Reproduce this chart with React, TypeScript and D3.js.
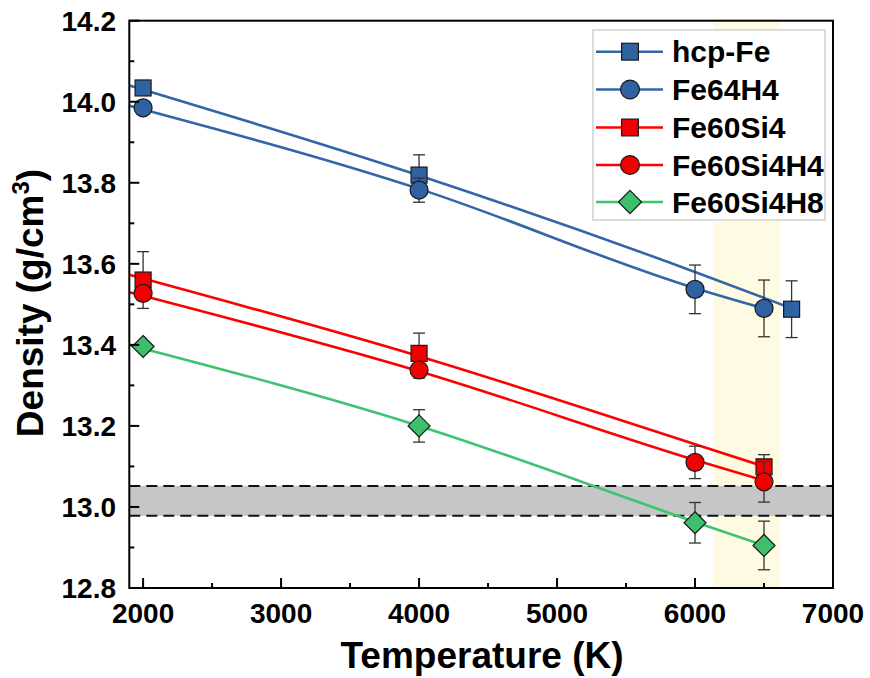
import React from "react";
import * as d3 from "d3";

// ---- data ----
const seriesNames = ["hcp-Fe", "Fe64H4", "Fe60Si4", "Fe60Si4H4", "Fe60Si4H8"];
const seriesShapes = ["square", "circle", "square", "circle", "diamond"];
const seriesLineColors = ["#3366a8", "#3366a8", "#ff0000", "#ff0000", "#3cc46e"];
const seriesFillColors = ["#2f62a0", "#2f62a0", "#f00000", "#f00000", "#3dbf6e"];

const hcpFeT = [2000, 4000, 6700];
const hcpFeD = [14.034, 13.819, 13.488];
const hcpFeErr = [0.01, 0.05, 0.07];

const fe64h4T = [2000, 4000, 6000, 6500];
const fe64h4D = [13.985, 13.782, 13.537, 13.49];
const fe64h4Err = [0.01, 0.03, 0.06, 0.07];

const fe60si4T = [2000, 4000, 6500];
const fe60si4D = [13.56, 13.379, 13.099];
const fe60si4Err = [0.07, 0.05, 0.03];

const fe60si4h4T = [2000, 4000, 6000, 6500];
const fe60si4h4D = [13.527, 13.338, 13.11, 13.062];
const fe60si4h4Err = [0.015, 0.02, 0.04, 0.05];

const fe60si4h8T = [2000, 4000, 6000, 6500];
const fe60si4h8D = [13.396, 13.2, 12.961, 12.905];
const fe60si4h8Err = [0.01, 0.04, 0.05, 0.06];

// fitted curves
const hcpFeFitT = [1900, 4000, 6000, 6700];
const hcpFeFitD = [14.04, 13.818, 13.58, 13.49];
const fe64h4FitT = [1900, 4000, 6000, 6500];
const fe64h4FitD = [13.99, 13.785, 13.54, 13.49];
const fe60si4FitT = [1900, 4000, 6000, 6500];
const fe60si4FitD = [13.573, 13.372, 13.155, 13.1];
const fe60si4h4FitT = [1900, 4000, 6000, 6500];
const fe60si4h4FitD = [13.53, 13.335, 13.116, 13.065];
const fe60si4h8FitT = [1900, 4000, 6000, 6500];
const fe60si4h8FitD = [13.4, 13.2, 12.963, 12.905];

const pointsT = [hcpFeT, fe64h4T, fe60si4T, fe60si4h4T, fe60si4h8T];
const pointsD = [hcpFeD, fe64h4D, fe60si4D, fe60si4h4D, fe60si4h8D];
const pointsErr = [hcpFeErr, fe64h4Err, fe60si4Err, fe60si4h4Err, fe60si4h8Err];
const fitT = [hcpFeFitT, fe64h4FitT, fe60si4FitT, fe60si4h4FitT, fe60si4h8FitT];
const fitD = [hcpFeFitD, fe64h4FitD, fe60si4FitD, fe60si4h4FitD, fe60si4h8FitD];

const xTicks = [2000, 3000, 4000, 5000, 6000, 7000];
const xMinorTicks = [2500, 3500, 4500, 5500, 6500];
const yTicks = [12.8, 13.0, 13.2, 13.4, 13.6, 13.8, 14.0, 14.2];
const yMinorTicks = [12.9, 13.1, 13.3, 13.5, 13.7, 13.9, 14.1];

const yellowBand = [6135, 6618];
const grayBand = [12.978, 13.052];

const FONT = "'Liberation Sans', Arial, Helvetica, sans-serif";

function Marker({ shape, x, y, fill, s = 1 }: any) {
  const stroke = "#1a1a1a";
  if (shape === "square") {
    const h = 8 * s;
    return <rect x={x - h} y={y - h} width={2 * h} height={2 * h} fill={fill} stroke={stroke} strokeWidth={1.2} />;
  }
  if (shape === "circle") {
    return <circle cx={x} cy={y} r={9 * s} fill={fill} stroke={stroke} strokeWidth={1.2} />;
  }
  const r = 11 * s;
  return (
    <polygon
      points={`${x},${y - r} ${x + r},${y} ${x},${y + r} ${x - r},${y}`}
      fill={fill}
      stroke={stroke}
      strokeWidth={1.2}
    />
  );
}

export default function App() {
  const W = 870;
  const H = 678;
  const left = 129.3;
  const right = 833;
  const top = 20.7;
  const bottom = 588;

  const x = d3.scaleLinear().domain([1900, 7000]).range([left, right]);
  const y = d3.scaleLinear().domain([12.8, 14.2]).range([bottom, top]);

  const line = d3
    .line<[number, number]>()
    .x((d) => x(d[0]))
    .y((d) => y(d[1]))
    .curve(d3.curveMonotoneX);

  const legendRowY = [51.7, 89.5, 127.5, 165, 202];

  return (
    <svg width={W} height={H} style={{ position: "absolute", left: 0, top: 0, background: "#fff" }} fontFamily={FONT}>
      {/* yellow band */}
      <rect
        x={x(yellowBand[0])}
        y={top}
        width={x(yellowBand[1]) - x(yellowBand[0])}
        height={bottom - top}
        fill="#fffbe2"
      />
      {/* gray band */}
      <rect x={left} y={y(grayBand[1])} width={right - left} height={y(grayBand[0]) - y(grayBand[1])} fill="#c6c6c6" />
      {grayBand.map((v, i) => (
        <line key={i} x1={left} x2={right} y1={y(v)} y2={y(v)} stroke="#111" strokeWidth={2} strokeDasharray="11,6" />
      ))}

      {/* fit lines */}
      {fitT.map((ts, si) => (
        <path
          key={si}
          d={line(ts.map((t, i) => [t, fitD[si][i]]) as [number, number][]) || ""}
          fill="none"
          stroke={seriesLineColors[si]}
          strokeWidth={2.6}
        />
      ))}

      {/* error bars + markers */}
      {pointsT.map((ts, si) => (
        <g key={si}>
          {ts.map((t, i) => {
            const cx = x(t);
            const v = pointsD[si][i];
            const e = pointsErr[si][i];
            return (
              <g key={i} stroke="#333" strokeWidth={1.3}>
                <line x1={cx} x2={cx} y1={y(v + e)} y2={y(v - e)} />
                <line x1={cx - 6} x2={cx + 6} y1={y(v + e)} y2={y(v + e)} />
                <line x1={cx - 6} x2={cx + 6} y1={y(v - e)} y2={y(v - e)} />
              </g>
            );
          })}
          {ts.map((t, i) => (
            <Marker key={"m" + i} shape={seriesShapes[si]} x={x(t)} y={y(pointsD[si][i])} fill={seriesFillColors[si]} />
          ))}
        </g>
      ))}

      {/* axes box */}
      <rect x={left} y={top} width={right - left} height={bottom - top} fill="none" stroke="#000" strokeWidth={2} />
      {xTicks.map((t) => (
        <g key={t}>
          <line x1={x(t)} x2={x(t)} y1={bottom} y2={bottom - 10} stroke="#000" strokeWidth={2} />
          <text x={x(t)} y={623} textAnchor="middle" fontSize={28} fontWeight="bold">
            {t}
          </text>
        </g>
      ))}
      {xMinorTicks.map((t) => (
        <line key={t} x1={x(t)} x2={x(t)} y1={bottom} y2={bottom - 5} stroke="#000" strokeWidth={2} />
      ))}
      {yTicks.map((v) => (
        <g key={v}>
          <line x1={left} x2={left + 10} y1={y(v)} y2={y(v)} stroke="#000" strokeWidth={2} />
          <text x={116} y={y(v) + 10} textAnchor="end" fontSize={28} fontWeight="bold">
            {v.toFixed(1)}
          </text>
        </g>
      ))}
      {yMinorTicks.map((v) => (
        <line key={v} x1={left} x2={left + 5} y1={y(v)} y2={y(v)} stroke="#000" strokeWidth={2} />
      ))}

      {/* axis titles */}
      <text x={482} y={668} textAnchor="middle" fontSize={37} fontWeight="bold">
        Temperature (K)
      </text>
      <text transform="rotate(-90)" x={-303} y={43} textAnchor="middle" fontSize={37} fontWeight="bold">
        Density (g/cm
        <tspan dy={-14} fontSize={24}>
          3
        </tspan>
        <tspan dy={14}>)</tspan>
      </text>

      {/* legend */}
      <rect x={593} y={30} width={232} height={190} fill="#fff" stroke="#d0d0d0" strokeWidth={1.5} />
      {seriesNames.map((n, i) => (
        <g key={n}>
          <line x1={596} x2={663} y1={legendRowY[i]} y2={legendRowY[i]} stroke={seriesLineColors[i]} strokeWidth={2.6} />
          <Marker shape={seriesShapes[i]} x={630} y={legendRowY[i]} fill={seriesFillColors[i]} s={1.05} />
          <text x={672} y={legendRowY[i] + 10.5} fontSize={30} fontWeight="bold">
            {n}
          </text>
        </g>
      ))}
    </svg>
  );
}
